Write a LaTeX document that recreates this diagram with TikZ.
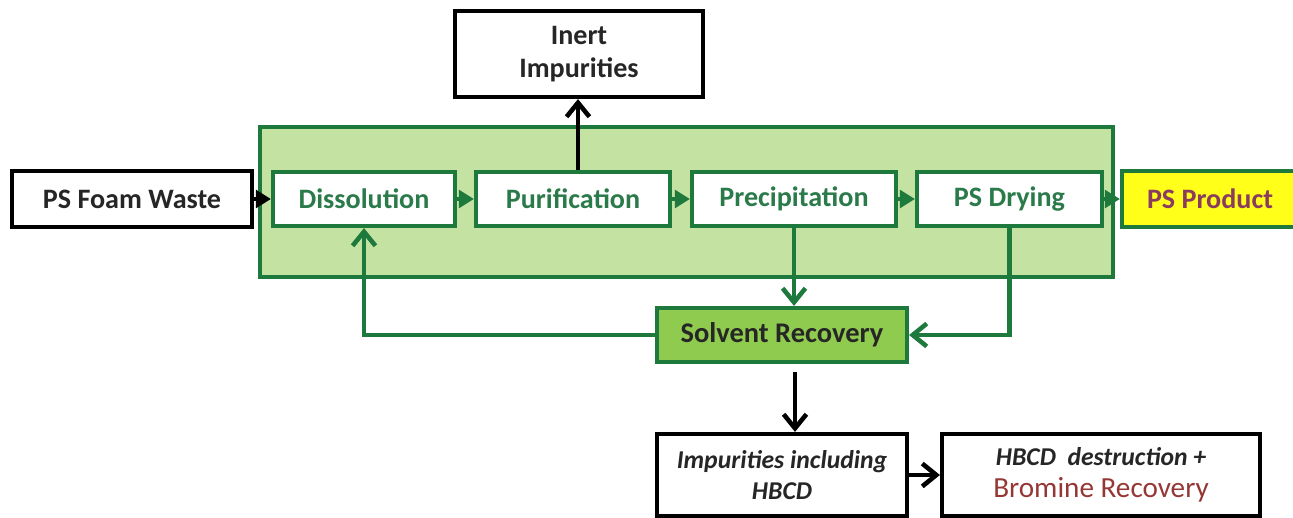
\documentclass[tikz,border=0pt]{standalone}
\usepackage{fontspec}
\setmainfont{Carlito}
\usetikzlibrary{arrows.meta,positioning}
\definecolor{dgreen}{HTML}{1E7A3C}
\definecolor{tgreen}{HTML}{2A7A4A}
\definecolor{lfill}{HTML}{C4E3A2}
\definecolor{sfill}{HTML}{8FCB4E}
\definecolor{txtk}{HTML}{262626}
\definecolor{prodtxt}{HTML}{8A3C5E}
\definecolor{brom}{HTML}{953735}
\definecolor{yel}{HTML}{FFFF1A}
\tikzset{
  kbox/.style={draw=black,line width=2.4pt,fill=white,inner sep=0pt,text=txtk,font=\fontsize{16}{19}\selectfont\bfseries,align=center},
  gbox/.style={draw=dgreen,line width=2.4pt,fill=white,inner sep=0pt,minimum height=1.08cm,text=tgreen,font=\fontsize{16}{19}\selectfont\bfseries},
  garr/.style={draw=dgreen,line width=2.4pt,-{Straight Barb[length=8pt,width=13pt,line width=2.6pt]}},
  karr/.style={draw=black,line width=2.4pt,-{Straight Barb[length=8pt,width=13pt,line width=2.6pt]}},
  gtri/.style={draw=dgreen,line width=2pt,-{Triangle[length=8.5pt,width=10pt]}},
  ktri/.style={draw=black,line width=2pt,-{Triangle[length=8.5pt,width=10pt]}},
}
\begin{document}
\begin{tikzpicture}[x=0.02cm,y=-0.02cm]
\useasboundingbox (0,0) rectangle (1293,517);
\fill[white] (0,0) rectangle (1293,517);
\draw[draw=dgreen,fill=lfill,line width=2.4pt] (260,127) rectangle (1113,277);
\node[kbox,minimum width=4.8cm,minimum height=1.12cm] (foam) at (132,199) {PS Foam Waste};
\node[gbox,minimum width=3.64cm] (diss) at (364,199) {Dissolution};
\node[gbox,minimum width=3.88cm] (pur) at (573,199) {Purification};
\node[gbox,minimum width=4.08cm] (prec) at (794,199) {Precipitation};
\node[gbox,minimum width=3.7cm] (dry) at (1009.5,199) {PS Drying};
\node[gbox,fill=yel,text=prodtxt,minimum width=3.52cm,minimum height=1.12cm] (prod) at (1210,199) {PS Product};
\node[kbox,minimum width=4.96cm,minimum height=1.72cm] (inert) at (579,54) {Inert\\Impurities};
\node[gbox,fill=sfill,text=txtk,minimum width=5cm,font=\fontsize{16.2}{19}\selectfont\bfseries] (solv) at (782,335) {Solvent Recovery};
\node[kbox,minimum width=5cm,minimum height=1.64cm,font=\fontsize{14.6}{18}\selectfont\bfseries\itshape] (imp) at (782,475) {Impurities including\\HBCD};
\node[kbox,minimum width=6.36cm,minimum height=1.64cm,font=\fontsize{14.6}{18}\selectfont\bfseries\itshape] (hbcd) at (1101,475) {HBCD\ \ destruction +\\{\upshape\mdseries\fontsize{16.6}{18}\selectfont\color{brom}Bromine Recovery}};
% connectors
\draw[ktri] (foam.east) -- (diss.west);
\draw[gtri] (diss.east) -- (pur.west);
\draw[gtri] (pur.east) -- (prec.west);
\draw[gtri] (prec.east) -- (dry.west);
\draw[gtri] (dry.east) -- (prod.west);
\draw[karr] ([xshift=0.1cm]pur.north) -- ([xshift=0.1cm]pur.north |- inert.south);
\draw[garr] (prec.south) -- (prec.south |- solv.north);
\draw[garr] (dry.south) |- (solv.east);
\draw[garr] (solv.west) -| (diss.south);
\draw[karr] ([xshift=0.26cm,yshift=-0.16cm]solv.south) -- ([xshift=0.26cm]imp.north);
\draw[karr] (imp.east) -- (hbcd.west);
\end{tikzpicture}
\end{document}
